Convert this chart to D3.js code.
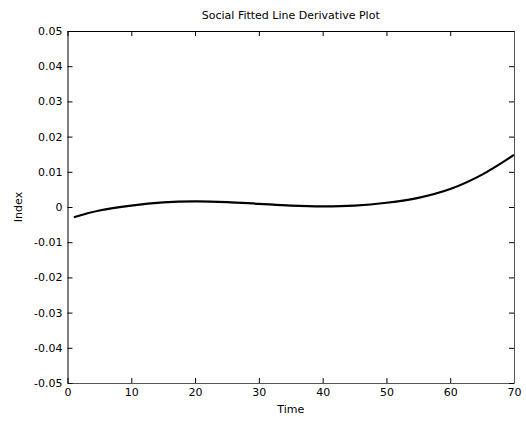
<!DOCTYPE html>
<html>
<head>
<meta charset="utf-8">
<script src="https://cdn.jsdelivr.net/npm/d3@7"></script>
<style>
  body { margin: 0; background: #fff; }
  text { font-family: "DejaVu Sans", sans-serif; fill: #000; }
</style>
</head>
<body>
<script>
// values
var times  = [1, 5, 10, 15, 20, 25, 30, 35, 40, 45, 50, 55, 60, 65, 70];
var values = [-0.0029, -0.0010, 0.0004, 0.0013, 0.0016, 0.0014, 0.0009, 0.0004, 0.0002, 0.0004, 0.0012, 0.0026, 0.0051, 0.0092, 0.0148];
var xTicks = [0, 10, 20, 30, 40, 50, 60, 70];
var yTicks = [-0.05, -0.04, -0.03, -0.02, -0.01, 0, 0.01, 0.02, 0.03, 0.04, 0.05];

var W = 526, H = 423;
var plotL = 67.5, plotR = 514, plotT = 31, plotB = 383;
var fontSize = "11px";

var svg = d3.select("body").append("svg").attr("width", W).attr("height", H);

var x = d3.scaleLinear().domain([0, 70]).range([plotL, plotR]);
var y = d3.scaleLinear().domain([-0.05, 0.05]).range([plotB, plotT]);

// matlab style labels, plain hyphen for minus
var fmt = function(d) { return Math.abs(d) < 1e-9 ? "0" : d.toFixed(2); };

// axes with inward ticks, on all four sides
var gB = svg.append("g").attr("transform", "translate(0," + plotB + ")")
  .call(d3.axisBottom(x).tickValues(xTicks).tickSizeInner(-5).tickSizeOuter(0).tickPadding(5));
var gT = svg.append("g").attr("transform", "translate(0," + plotT + ")")
  .call(d3.axisTop(x).tickValues(xTicks).tickSizeInner(-5).tickSizeOuter(0).tickFormat(""));
var gL = svg.append("g").attr("transform", "translate(" + plotL + ",0)")
  .call(d3.axisLeft(y).tickValues(yTicks).tickSizeInner(-5).tickSizeOuter(0).tickPadding(5).tickFormat(fmt));
var gR = svg.append("g").attr("transform", "translate(" + plotR + ",0)")
  .call(d3.axisRight(y).tickValues(yTicks).tickSizeInner(-5).tickSizeOuter(0).tickFormat(""));

svg.selectAll(".domain").attr("stroke", "#000");
gB.select(".domain").attr("stroke", "#555");
gR.select(".domain").attr("stroke", "#555");
svg.selectAll(".tick line").attr("stroke", "#000");
svg.selectAll(".tick text").attr("font-size", fontSize).attr("fill", "#000")
  .style("font-family", "'DejaVu Sans', sans-serif");

var data = times.map(function(t, i) { return {t: t, v: values[i]}; });

svg.append("path")
  .datum(data)
  .attr("fill", "none")
  .attr("stroke", "#000")
  .attr("stroke-width", 2.2)
  .attr("d", d3.line().x(function(d) { return x(d.t); }).y(function(d) { return y(d.v); }).curve(d3.curveCatmullRom));

svg.append("text").attr("x", (plotL + plotR) / 2).attr("y", 19)
  .attr("text-anchor", "middle").attr("font-size", fontSize).text("Social Fitted Line Derivative Plot");
svg.append("text").attr("x", (plotL + plotR) / 2).attr("y", 413)
  .attr("text-anchor", "middle").attr("font-size", fontSize).text("Time");
svg.append("text").attr("transform", "translate(22," + y(0) + ") rotate(-90)")
  .attr("text-anchor", "middle").attr("font-size", fontSize).text("Index");
</script>
</body>
</html>
